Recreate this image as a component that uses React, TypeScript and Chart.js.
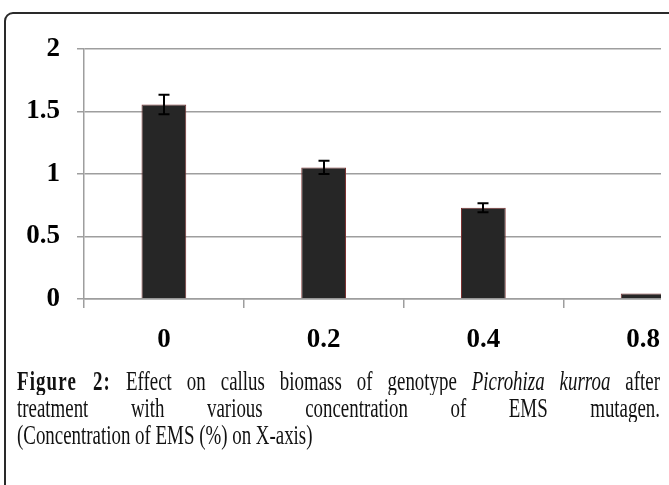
import React, { useEffect, useRef } from "react";
import { Chart, registerables } from "chart.js";

Chart.register(...registerables);

const categories = ["0", "0.2", "0.4", "0.8"];
const biomass = [1.556, 1.053, 0.731, 0.045];
const errors = [0.078, 0.053, 0.036, 0];
const yTicks = [0, 0.5, 1, 1.5, 2];

const errorBarPlugin = {
  id: "errorBars",
  afterDatasetsDraw(chart: any) {
    const ctx = chart.ctx;
    const meta = chart.getDatasetMeta(0);
    const y = chart.scales.y;
    ctx.save();
    ctx.strokeStyle = "#000000";
    ctx.lineWidth = 2;
    meta.data.forEach((bar: any, i: number) => {
      const e = errors[i];
      if (!e) return;
      const v = biomass[i];
      const top = y.getPixelForValue(v + e);
      const bot = y.getPixelForValue(v - e);
      const x = Math.round(bar.x);
      ctx.beginPath();
      ctx.moveTo(x, top);
      ctx.lineTo(x, bot);
      ctx.moveTo(x - 5.5, top);
      ctx.lineTo(x + 5.5, top);
      ctx.moveTo(x - 5.5, bot);
      ctx.lineTo(x + 5.5, bot);
      ctx.stroke();
    });
    ctx.restore();
  },
};

const SX = 0.7;

export default function App() {
  const ref = useRef<HTMLCanvasElement | null>(null);

  useEffect(() => {
    if (!ref.current) return;
    const gridColor = "#9e9e9e";
    const tickFont = { family: "'Liberation Serif', 'Times New Roman', serif", size: 27, weight: "bold" as const };
    const chart = new Chart(ref.current, {
      type: "bar",
      data: {
        labels: categories,
        datasets: [
          {
            data: biomass,
            backgroundColor: "#262626",
            borderColor: "#7a3030",
            borderWidth: 1,
            barPercentage: 0.28,
            categoryPercentage: 1,
          },
        ],
      },
      options: {
        animation: false,
        responsive: false,
        devicePixelRatio: 1,
        layout: { padding: { top: 49, left: 0, right: 0, bottom: 0 } },
        plugins: { legend: { display: false }, tooltip: { enabled: false } },
        scales: {
          x: {
            grid: {
              drawOnChartArea: false,
              drawTicks: true,
              tickLength: 9,
              color: gridColor,
              lineWidth: 1.5,
            },
            border: { display: true, color: gridColor, width: 1.5 },
            ticks: {
              color: "#000000",
              padding: 16,
              font: tickFont,
            },
            afterFit: (s: any) => {
              s.height = 71;
            },
          },
          y: {
            min: 0,
            max: 2,
            afterBuildTicks: (s: any) => {
              s.ticks = yTicks.map((v) => ({ value: v }));
            },
            grid: {
              color: gridColor,
              lineWidth: 1.5,
              drawTicks: true,
              tickLength: 7,
            },
            border: { display: true, color: gridColor, width: 1.5 },
            ticks: {
              color: "#000000",
              padding: 17,
              font: tickFont,
              callback: (v: any) => String(Number(v)),
            },
            afterFit: (s: any) => {
              s.width = 84;
            },
          },
        },
      },
      plugins: [errorBarPlugin],
    });
    return () => chart.destroy();
  }, []);

  const capFont = "'Liberation Serif', 'Times New Roman', serif";
  const lineStyle: React.CSSProperties = {
    height: 27,
    lineHeight: "27px",
    whiteSpace: "nowrap",
  };
  const justified: React.CSSProperties = {
    ...lineStyle,
    whiteSpace: "normal",
    textAlign: "justify",
    textAlignLast: "justify" as any,
    overflow: "hidden",
  };

  return (
    <div
      style={{
        position: "fixed",
        left: 0,
        top: 0,
        width: 669,
        height: 485,
        overflow: "hidden",
        background: "#ffffff",
      }}
    >
      <div
        style={{
          position: "absolute",
          left: 4,
          top: 12,
          width: 740,
          height: 540,
          border: "2px solid #2a2a2a",
          borderRadius: 9,
          boxSizing: "border-box",
        }}
      />
      <div
        style={{
          position: "absolute",
          left: 0,
          top: 0,
          width: 661,
          height: 370,
          overflow: "hidden",
        }}
      >
        <canvas ref={ref} width={723} height={370} style={{ width: 723, height: 370, display: "block" }} />
      </div>
      <div
        style={{
          position: "absolute",
          left: 17,
          top: 368,
          width: 643 / SX,
          transform: `scaleX(${SX})`,
          transformOrigin: "0 0",
          fontFamily: capFont,
          fontSize: 27,
          color: "#111111",
        }}
      >
        <div style={justified}>
          <b style={{ letterSpacing: "1.6px" }}>Figure 2:</b> Effect on callus biomass of genotype <i>Picrohiza kurroa</i> after
        </div>
        <div style={justified}>treatment with various concentration of EMS mutagen.</div>
        <div style={lineStyle}>(Concentration of EMS (%) on X-axis)</div>
      </div>
    </div>
  );
}
